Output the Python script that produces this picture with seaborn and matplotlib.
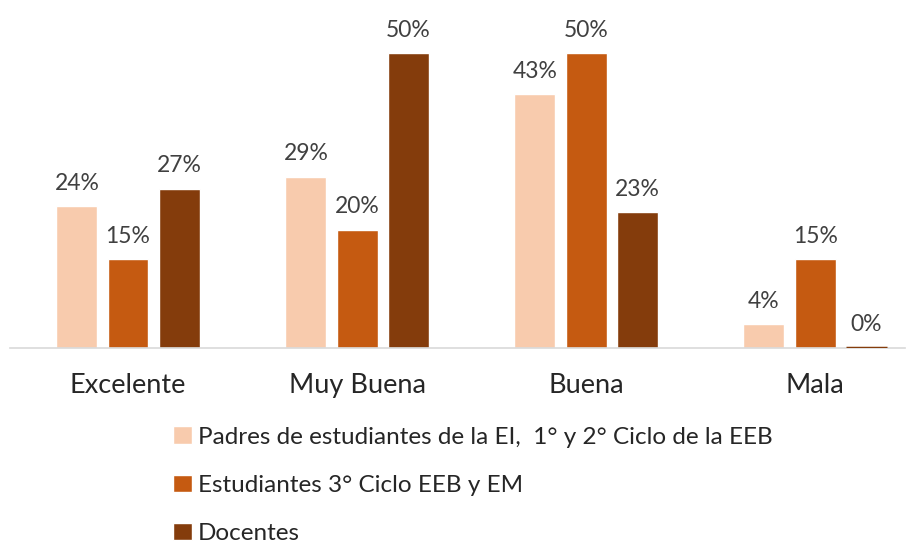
import matplotlib
matplotlib.use('Agg')
import matplotlib.pyplot as plt
import pandas as pd
import seaborn as sns

# Data
categories = ['Excelente', 'Muy Buena', 'Buena', 'Mala']
series = ['Padres de estudiantes de la EI,  1° y 2° Ciclo de la EEB',
          'Estudiantes 3° Ciclo EEB y EM',
          'Docentes']
padres = [24, 29, 43, 4]
estudiantes = [15, 20, 50, 15]
docentes = [27, 50, 23, 0]
colors = ['#F8CBAD', '#C55A11', '#843C0C']

# Long format for seaborn
df = pd.DataFrame({
    'categoria': categories * 3,
    'serie': [series[0]] * 4 + [series[1]] * 4 + [series[2]] * 4,
    'valor': padres + estudiantes + docentes,
})

sns.set_style('white')
plt.rcParams['font.family'] = ['Lato', 'DejaVu Sans']

fig = plt.figure(figsize=(9.17, 5.46), dpi=100)
ax = fig.add_axes([0.011, 0.363, 0.976, 0.637])

sns.barplot(data=df, x='categoria', y='valor', hue='serie', order=categories,
            hue_order=series, palette=colors, width=0.67, gap=0.2,
            saturation=1, ax=ax)

# Legend stacked below the chart (made before touching the bars)
handles, labels = ax.get_legend_handles_labels()
ax.legend_.remove()
fig.legend(handles, labels, loc='upper left', bbox_to_anchor=(0.189, 0.219),
           frameon=False, fontsize=17.5, labelspacing=1.1, handlelength=0.75,
           handleheight=0.75, handletextpad=0.25, borderpad=0, borderaxespad=0,
           labelcolor='#262626')

# a zero bar still shows as a thin line in the original
for p in ax.patches:
    if p.get_height() == 0:
        p.set_edgecolor(colors[2])
        p.set_linewidth(2.5)
        p.set_zorder(5)

# Value labels above each bar
for cont in ax.containers:
    ax.bar_label(cont, fmt='%d%%', padding=9, fontsize=16.5, color='#404040')

ax.set_xlim(-0.515, 3.393)
ax.set_ylim(0, 59)
ax.set_xlabel('')
ax.set_ylabel('')
ax.set_yticks([])
ax.tick_params(axis='x', length=0, labelsize=19.5, pad=18, labelcolor='#262626')
for side in ['top', 'right', 'left']:
    ax.spines[side].set_visible(False)
ax.spines['bottom'].set_color('#D9D9D9')
ax.spines['bottom'].set_linewidth(1.2)

fig.savefig('out.png', dpi=100)
